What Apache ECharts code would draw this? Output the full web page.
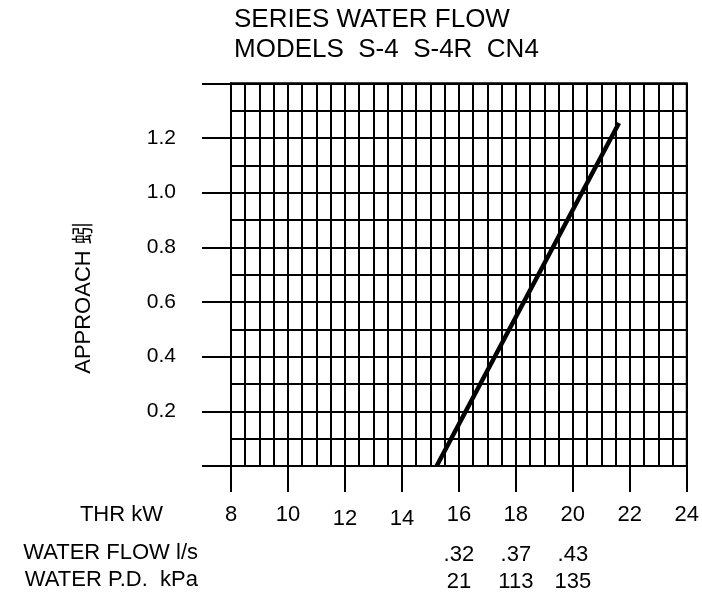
<!DOCTYPE html>
<html>
<head>
<meta charset="utf-8">
<script src="https://cdn.jsdelivr.net/npm/echarts@6/dist/echarts.min.js"></script>
<style>
html,body{margin:0;padding:0;background:#fff;}
#chart{width:702px;height:598px;}
</style>
</head>
<body>
<div id="chart"></div>
<script>
// ---- data ----
const titleLines = ['SERIES WATER FLOW', 'MODELS  S-4  S-4R  CN4'];
const yAxisName = 'APPROACH 蚓';
const xRowName = 'THR kW';
const flowRowName = 'WATER FLOW l/s';
const pdRowName = 'WATER P.D.  kPa';
const xMin = 8, xMax = 24, xStep = 2;
const yMin = 0, yMax = 1.4, yStep = 0.2;
const yTickLabels = ['0.2', '0.4', '0.6', '0.8', '1.0', '1.2'];
const xLowLabels = [12, 14];
const flowAtKW = [16, 18, 20];
const flowLabels = ['.32', '.37', '.43'];
const pdLabels = ['21', '113', '135'];
const lineKW = [15.22, 21.62];
const lineApproach = [0, 1.255];

const FONT = "'Liberation Sans', Arial, 'Noto Sans CJK SC', sans-serif";
const BLACK = '#000';

const chart = echarts.init(document.getElementById('chart'), null, {renderer: 'canvas'});

function rowAxis(labels, offset) {
  return {
    type: 'value', gridIndex: 0, position: 'bottom', offset: offset,
    min: xMin, max: xMax, interval: xStep,
    axisLine: {show: false}, axisTick: {show: false},
    splitLine: {show: false},
    axisLabel: {
      margin: 38, fontSize: 22, color: BLACK, fontFamily: FONT,
      formatter: function (v) {
        const i = flowAtKW.indexOf(v);
        return i >= 0 ? labels[i] : '';
      }
    }
  };
}

const option = {
  backgroundColor: '#fff',
  animation: false,
  grid: {left: 231, right: 15, top: 83.3, bottom: 132, show: true, borderColor: BLACK, borderWidth: 2, containLabel: false},
  xAxis: [{
    type: 'value', gridIndex: 0, position: 'bottom',
    min: xMin, max: xMax, interval: xStep,
    axisLine: {show: true, lineStyle: {color: BLACK, width: 2}},
    axisTick: {show: true, length: 26, lineStyle: {color: BLACK, width: 2}},
    minorTick: {show: false, splitNumber: 4},
    splitLine: {show: true, lineStyle: {color: BLACK, width: 2}},
    minorSplitLine: {show: true, lineStyle: {color: BLACK, width: 2}},
    axisLabel: {
      margin: 38, fontSize: 22, color: BLACK, fontFamily: FONT,
      formatter: function (v) {
        return xLowLabels.indexOf(v) >= 0 ? '{low|' + v + '}' : String(v);
      },
      rich: {low: {fontSize: 22, fontFamily: FONT, color: BLACK, padding: [4, 0, 0, 0]}}
    }
  },
  rowAxis(flowLabels, 40),
  rowAxis(pdLabels, 67)
  ],
  yAxis: {
    type: 'value', min: yMin, max: yMax, interval: yStep,
    axisLine: {show: true, lineStyle: {color: BLACK, width: 2}},
    axisTick: {show: true, length: 29, lineStyle: {color: BLACK, width: 2}},
    minorTick: {show: false, splitNumber: 2},
    splitLine: {show: true, lineStyle: {color: BLACK, width: 2}},
    minorSplitLine: {show: true, lineStyle: {color: BLACK, width: 2}},
    axisLabel: {
      margin: 55, fontSize: 21, color: BLACK, fontFamily: FONT,
      formatter: function (v) {
        const s = v.toFixed(1);
        return yTickLabels.indexOf(s) >= 0 ? s : '';
      }
    }
  },
  graphic: [
    {type: 'text', left: 234, top: 5, style: {text: titleLines.join('\n'), font: '26px ' + FONT, lineHeight: 30, fill: BLACK}},
    {type: 'text', x: 84, y: 298, rotation: Math.PI / 2, style: {text: yAxisName, font: '22px ' + FONT, fill: BLACK, align: 'center', verticalAlign: 'middle'}},
    {type: 'text', x: 163, y: 515, style: {text: xRowName, font: '22px ' + FONT, fill: BLACK, align: 'right', verticalAlign: 'middle'}},
    {type: 'text', x: 198, y: 553, style: {text: flowRowName, font: '22px ' + FONT, fill: BLACK, align: 'right', verticalAlign: 'middle'}},
    {type: 'text', x: 198, y: 580, style: {text: pdRowName, font: '22px ' + FONT, fill: BLACK, align: 'right', verticalAlign: 'middle'}}
  ],
  series: [{
    type: 'line', xAxisIndex: 0, yAxisIndex: 0,
    data: lineKW.map((x, i) => [x, lineApproach[i]]),
    symbol: 'none', clip: false,
    lineStyle: {color: BLACK, width: 4.5, cap: 'butt'}
  }]
};
chart.setOption(option);
</script>
</body>
</html>
